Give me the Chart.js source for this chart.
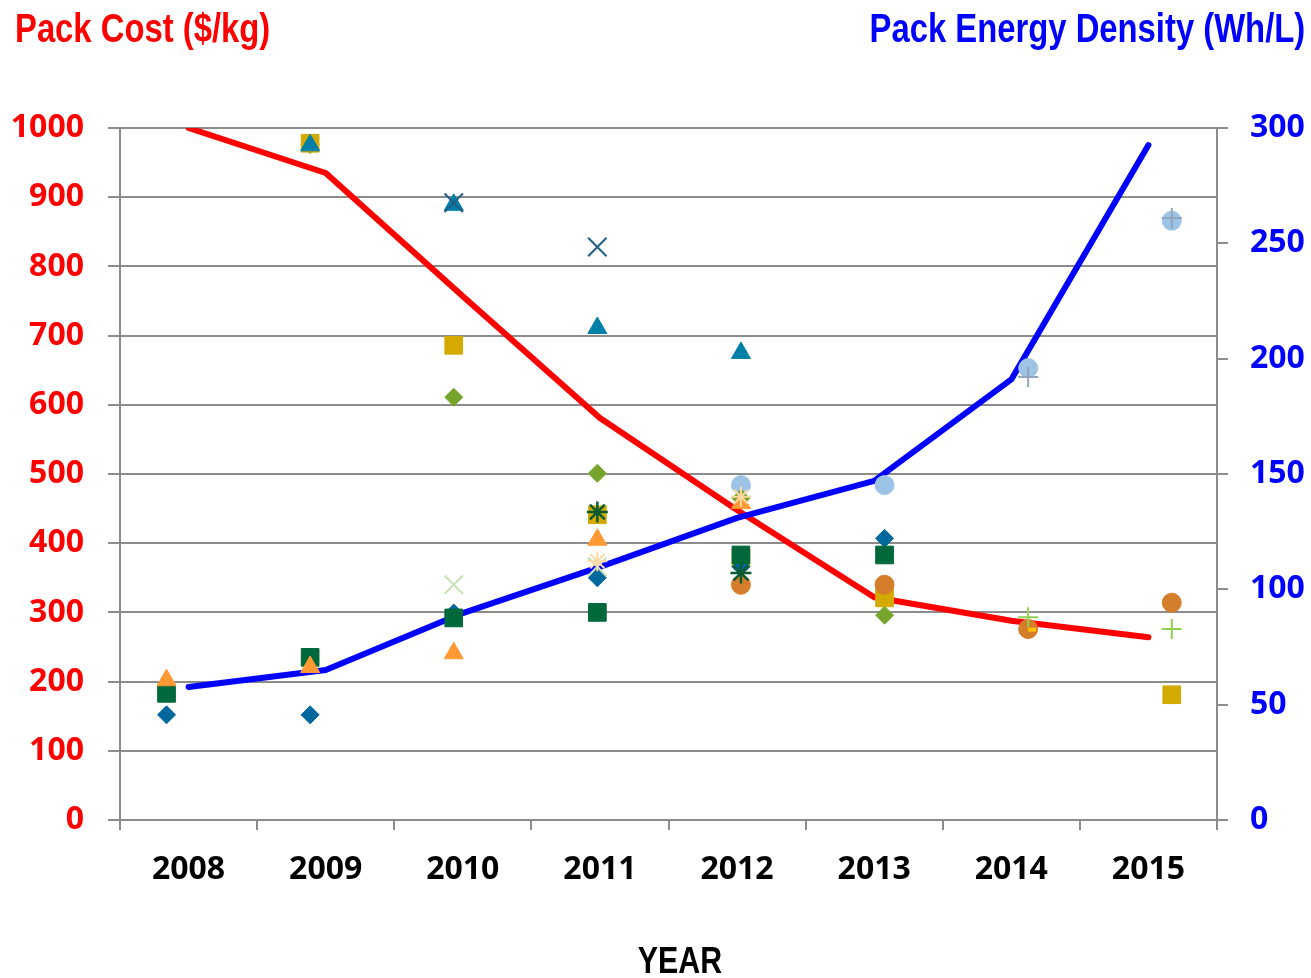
<!DOCTYPE html>
<html><head><meta charset="utf-8">
<script src="https://cdn.jsdelivr.net/npm/chart.js@4.4.1/dist/chart.umd.min.js"></script>
<style>
html,body{margin:0;padding:0;background:#fff;}
#wrap{position:relative;width:1311px;height:978px;overflow:hidden;}
#c{position:absolute;left:0;top:0;}
.t{position:absolute;font-family:"Liberation Sans","Arial",sans-serif;font-weight:bold;font-size:40px;line-height:40px;white-space:nowrap;}
</style></head><body>
<div id="wrap">
<canvas id="c" width="1311" height="978" style="width:1311px;height:978px"></canvas>
<div class="t" style="left:15px;top:8px;color:#ff0000;transform:scaleX(0.82);transform-origin:left top;">Pack Cost ($/kg)</div>
<div class="t" style="right:6px;top:8px;color:#0000ff;transform:scaleX(0.82);transform-origin:right top;">Pack Energy Density (Wh/L)</div>
<div class="t" style="left:580px;width:200px;text-align:center;top:942px;color:#000;font-size:37px;line-height:37px;transform:scaleX(0.82);transform-origin:center top;">YEAR</div>
</div>
<script>
// ---- data ----
const years = ['2008','2009','2010','2011','2012','2013','2014','2015'];
const yearNums = [2008,2009,2010,2011,2012,2013,2014,2015];
const costTicks = [0,100,200,300,400,500,600,700,800,900,1000];
const densityTicks = [0,50,100,150,200,250,300];

const packCost = [1000, 935, 757, 581, 448, 322, 288, 264];        // $/kg, left axis
const energyDensity = [57.7, 65, 89.7, 109.7, 131, 147, 191, 292.6]; // Wh/L, right axis

// individual cost data points ($/kg)
const goldSquare      = [null, 978, 686, 441, 378, 321, null, 181];
const tealTriangle    = [null, 975, 889, 711, 675, null, null, null];
const darkBlueX       = [null, null, 892, 828, null, null, null, null];
const darkGreenStar   = [null, null, null, 445, 357, null, null, null];
const oliveDiamond    = [null, 976, 611, 501, 465, 296, null, null];
const tealDiamond     = [152, 152, 299, 350, 366, 407, null, null];
const greenSquare     = [183, 235, 292, 300, 383, 383, null, null];
const orangeTriangle  = [202, 221, 241, 405, 458, null, null, null];
const lightGreenX     = [null, null, 340, 366, null, null, null, null];
const lightOrangeStar = [null, null, null, 374, 467, null, null, null];
const lightBlueCircle = [null, null, null, null, 484, 484, 653, 866];
const orangeCircle    = [null, null, null, null, 340, 340, 276, 314];
const grayPlus        = [null, null, null, null, null, null, 640, 870];
const greenPlus       = [null, null, null, null, null, null, 293, 276];
const yellowDash      = [null, null, null, null, null, null, 275, null];

// ---- styles (order: lower = drawn on top) ----
const markerSeries = [
  {name:'lightOrangeStar', values:lightOrangeStar, style:'star', color:'#FFD9A6', r:10, bw:2, order:1},
  {name:'yellowDash', values:yellowDash, style:'dash', color:'#FFC000', r:8, bw:4, order:2},
  {name:'greenPlus', values:greenPlus, style:'cross', color:'#92D050', r:10, bw:2, order:2},
  {name:'grayPlus', values:grayPlus, style:'cross', color:'#8FA6BD', r:10, bw:2, order:2},
  {name:'darkGreenStar', values:darkGreenStar, style:'star', color:'#0B5A30', r:10.5, bw:2.5, order:3},
  {name:'darkBlueX', values:darkBlueX, style:'crossRot', color:'#205E86', r:13, bw:2, order:4},
  {name:'lightGreenX', values:lightGreenX, style:'crossRot', color:'#C6E0B4', r:13, bw:2, order:5},
  {name:'orangeTriangle', values:orangeTriangle, style:'triangle', color:'#FF9933', r:11, bw:1, order:6},
  {name:'tealTriangle', values:tealTriangle, style:'triangle', color:'#0080A8', r:11, bw:1, order:7},
  {name:'greenSquare', values:greenSquare, style:'rect', color:'#00683A', r:12.5, bw:1, order:8},
  {name:'tealDiamond', values:tealDiamond, style:'rectRot', color:'#00689C', r:9, bw:1, order:9},
  {name:'orangeCircle', values:orangeCircle, style:'circle', color:'#D47D2A', r:9.5, bw:1, order:10},
  {name:'goldSquare', values:goldSquare, style:'rect', color:'#D4AA00', r:12.5, bw:1, order:11},
  {name:'oliveDiamond', values:oliveDiamond, style:'rectRot', color:'#77A52B', r:9, bw:1, order:12},
  {name:'lightBlueCircle', values:lightBlueCircle, style:'circle', color:'#9DC3E6', r:9.5, bw:1, order:13}
];

const tickFont = {family:'"Open Sans", "Liberation Sans", sans-serif', weight:'bold', size:32};
const gridGray = '#8c8c8c';

const datasets = [
  {type:'line', label:'Pack Cost', data:packCost, xAxisID:'x', yAxisID:'y',
   borderColor:'#ff0000', borderWidth:6, pointRadius:0, tension:0, borderCapStyle:'round', borderJoinStyle:'round', order:100},
  {type:'line', label:'Pack Energy Density', data:energyDensity, xAxisID:'x', yAxisID:'y1',
   borderColor:'#0000ff', borderWidth:6, pointRadius:0, tension:0, borderCapStyle:'round', borderJoinStyle:'round', order:99}
];
markerSeries.forEach(s => {
  const pts = [];
  s.values.forEach((v, i) => { if (v !== null) pts.push({x: yearNums[i], y: v}); });
  datasets.push({type:'scatter', label:s.name, data:pts, xAxisID:'x2', yAxisID:'y', showLine:false,
    pointStyle:s.style, pointRadius:s.r, pointHoverRadius:s.r,
    backgroundColor: s.color, borderColor: s.color,
    pointBorderWidth:s.bw, borderWidth:s.bw, order:s.order});
});

new Chart(document.getElementById('c'), {
  data:{labels:years, datasets},
  options:{
    responsive:false, animation:false,
    layout:{padding:{top:128, left:0, right:0, bottom:0}},
    plugins:{legend:{display:false}, tooltip:{enabled:false}, title:{display:false}},
    scales:{
      x:{type:'category', position:'bottom', offset:true,
        grid:{offset:true, drawOnChartArea:false, color:gridGray, lineWidth:2, tickLength:10, tickColor:gridGray},
        border:{color:gridGray, width:2},
        ticks:{font:tickFont, color:'#000', padding:21, maxRotation:0},
        afterFit:(s)=>{s.height = 158;}
      },
      x2:{type:'linear', display:false, min:2007.676, max:2015.315},
      y:{type:'linear', position:'left', min:0, max:1000,
        afterBuildTicks:(s)=>{s.ticks = costTicks.map(v=>({value:v}));},
        grid:{color:gridGray, lineWidth:2, tickLength:12, tickColor:gridGray},
        border:{color:gridGray, width:2},
        ticks:{font:tickFont, color:'#ff0000', padding:24, callback:(v)=>String(v)},
        afterFit:(s)=>{s.width = 120;}
      },
      y1:{type:'linear', position:'right', min:0, max:300,
        afterBuildTicks:(s)=>{s.ticks = densityTicks.map(v=>({value:v}));},
        grid:{drawOnChartArea:false, color:gridGray, lineWidth:2, tickLength:11, tickColor:gridGray},
        border:{color:gridGray, width:2},
        ticks:{font:tickFont, color:'#0000ff', padding:22, callback:(v)=>String(v)},
        afterFit:(s)=>{s.width = 94;}
      }
    }
  }
});
</script>
</body></html>
